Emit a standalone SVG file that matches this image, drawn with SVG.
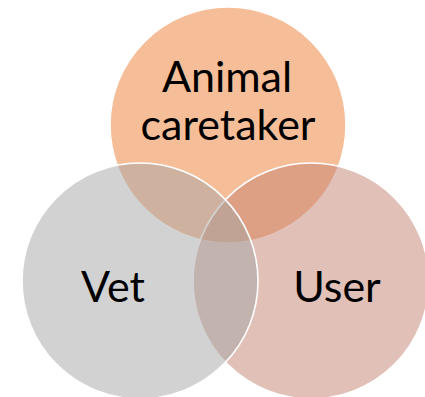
<svg xmlns="http://www.w3.org/2000/svg" width="425" height="397" viewBox="0 0 425 397">
<style>
.c{fill-opacity:0.5;stroke:#FFFFFF;stroke-width:1.6}
.t{font-family:Lato,"Open Sans","Liberation Sans",sans-serif;font-size:43px;fill:#000000;text-anchor:middle}
</style>
<rect width="425" height="397" fill="#FFFFFF"/>
<g id="node-animal-caretaker">
<circle class="c" cx="228" cy="125" r="118" fill="#ED7D31"/>
</g>
<g id="node-user">
<circle class="c" cx="311" cy="281" r="118" fill="#C48272"/>
</g>
<g id="node-vet">
<circle class="c" cx="140" cy="281" r="118" fill="#A5A5A5"/>
</g>
<g id="connectors"></g>
<g id="labels">
<text class="t" x="227" y="92">Animal</text>
<text class="t" x="228" y="140">caretaker</text>
<text class="t" x="113" y="302">Vet</text>
<text class="t" x="337" y="302">User</text>
</g>
</svg>
